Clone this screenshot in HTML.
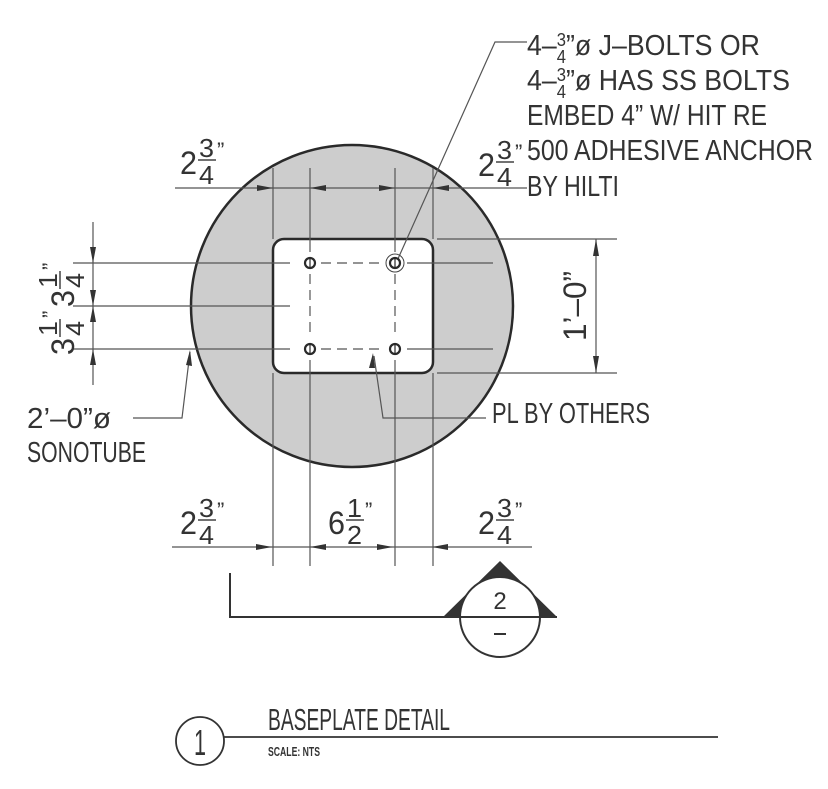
<!DOCTYPE html>
<html><head><meta charset="utf-8"><style>
html,body{margin:0;padding:0;background:#fff;}
svg{display:block;}
text{font-family:"Liberation Sans",sans-serif;fill:#333;}
</style></head><body>
<svg width="828" height="789" viewBox="0 0 828 789" xmlns="http://www.w3.org/2000/svg">
<defs>
<g id="fr">
 <text x="0" y="14" font-size="32" textLength="17" lengthAdjust="spacingAndGlyphs">2</text>
 <text x="19" y="-3" font-size="26" textLength="15" lengthAdjust="spacingAndGlyphs">3</text>
 <line x1="18" y1="0" x2="36" y2="0" stroke="#444" stroke-width="1.5"/>
 <text x="19" y="24" font-size="26" textLength="15" lengthAdjust="spacingAndGlyphs">4</text>
 <text x="37" y="-2" font-size="22">”</text>
</g>
<g id="fr14">
 <text x="0" y="14" font-size="32" textLength="17" lengthAdjust="spacingAndGlyphs">3</text>
 <text x="19" y="-3" font-size="26" textLength="15" lengthAdjust="spacingAndGlyphs">1</text>
 <line x1="18" y1="0" x2="36" y2="0" stroke="#444" stroke-width="1.5"/>
 <text x="19" y="24" font-size="26" textLength="15" lengthAdjust="spacingAndGlyphs">4</text>
 <text x="37" y="-2" font-size="22">”</text>
</g>
</defs>

<circle cx="352" cy="306" r="161" fill="#cdcdcd" stroke="#2a2a2a" stroke-width="2.5"/>
<rect x="273" y="239" width="160" height="134" rx="11" fill="#fff" stroke="#2a2a2a" stroke-width="2.5"/>

<g stroke="#555" stroke-width="1.2" fill="none">
 <line x1="273" y1="168" x2="273" y2="239"/><line x1="433" y1="168" x2="433" y2="239"/>
 <line x1="310" y1="168" x2="310" y2="252"/><line x1="395" y1="168" x2="395" y2="252"/>
 <line x1="273" y1="373" x2="273" y2="566"/><line x1="433" y1="373" x2="433" y2="566"/>
 <line x1="310" y1="360" x2="310" y2="566"/><line x1="395" y1="360" x2="395" y2="566"/>
 <line x1="310" y1="274" x2="310" y2="338" stroke-dasharray="10,6"/>
 <line x1="395" y1="274" x2="395" y2="338" stroke-dasharray="10,6"/>
 <line x1="73" y1="263" x2="290" y2="263"/><line x1="73" y1="306" x2="290" y2="306"/><line x1="73" y1="349" x2="290" y2="349"/>
 <line x1="321" y1="263" x2="384" y2="263" stroke-dasharray="10,6"/>
 <line x1="321" y1="349" x2="384" y2="349" stroke-dasharray="10,6"/>
 <line x1="407" y1="263" x2="493" y2="263"/><line x1="407" y1="349" x2="493" y2="349"/>
 <line x1="437" y1="239" x2="617" y2="239"/><line x1="437" y1="373" x2="617" y2="373"/>
 <line x1="175" y1="188" x2="527" y2="188"/>
 <line x1="172" y1="547" x2="532" y2="547"/>
 <line x1="93" y1="222" x2="93" y2="385"/>
 <line x1="596" y1="239" x2="596" y2="373"/>
 <polyline points="527,42 495,42 397,261"/>
 <polyline points="133,418 182,418 190,352"/>
 <polyline points="486,418 383,418 374,356"/>
</g>

<g stroke="#2a2a2a" stroke-width="2.2" fill="#fff">
 <circle cx="310" cy="263" r="5"/><circle cx="395" cy="263" r="5"/>
 <circle cx="310" cy="349" r="5"/><circle cx="395" cy="349" r="5"/>
</g>
<circle cx="395" cy="263" r="9" fill="none" stroke="#444" stroke-width="1"/>
<g stroke="#2a2a2a" stroke-width="1.2">
 <line x1="310" y1="258" x2="310" y2="268"/><line x1="395" y1="258" x2="395" y2="268"/>
 <line x1="310" y1="344" x2="310" y2="354"/><line x1="395" y1="344" x2="395" y2="354"/>
</g>

<g fill="#333">
 <polygon points="273,188 257,185 257,191"/><polygon points="310,188 326,185 326,191"/>
 <polygon points="395,188 379,185 379,191"/><polygon points="433,188 449,185 449,191"/>
 <polygon points="272,547 256,544 256,550"/><polygon points="310,547 326,544 326,550"/>
 <polygon points="393,547 377,544 377,550"/><polygon points="432,547 448,544 448,550"/>
 <polygon points="93,263 90,247 96,247"/><polygon points="93,306 90,290 96,290"/>
 <polygon points="93,306 90,322 96,322"/><polygon points="93,349 90,365 96,365"/>
 <polygon points="596,239 593,256 599,256"/><polygon points="596,373 593,356 599,356"/>
 <polygon points="190,350 186,365 192,366"/>
 <polygon points="373,353 369,368 375,368"/>
</g>

<use href="#fr" x="180" y="160"/>
<use href="#fr" x="478" y="162"/>
<use href="#fr" x="180" y="520"/>
<g transform="translate(328,520)">
 <text x="0" y="14" font-size="32" textLength="17" lengthAdjust="spacingAndGlyphs">6</text>
 <text x="19" y="-3" font-size="26" textLength="15" lengthAdjust="spacingAndGlyphs">1</text>
 <line x1="18" y1="0" x2="36" y2="0" stroke="#444" stroke-width="1.5"/>
 <text x="19" y="24" font-size="26" textLength="15" lengthAdjust="spacingAndGlyphs">2</text>
 <text x="37" y="-2" font-size="22">”</text>
</g>
<use href="#fr" x="478" y="520"/>
<g transform="translate(60,355) rotate(-90)"><use href="#fr14"/></g>
<g transform="translate(60,307) rotate(-90)"><use href="#fr14"/></g>
<text transform="translate(586,306) rotate(-90)" font-size="32" text-anchor="middle" textLength="70" lengthAdjust="spacingAndGlyphs">1’–0”</text>

<g font-size="29">
 <text x="527" y="55" fill="#222" textLength="233" lengthAdjust="spacingAndGlyphs"><tspan>4–</tspan><tspan font-size="18" dy="-9">3</tspan><tspan font-size="18" dx="-10" dy="17">4</tspan><tspan dy="-8">”ø J–BOLTS OR</tspan></text>
 <text x="527" y="90" fill="#222" textLength="263" lengthAdjust="spacingAndGlyphs"><tspan>4–</tspan><tspan font-size="18" dy="-9">3</tspan><tspan font-size="18" dx="-10" dy="17">4</tspan><tspan dy="-8">”ø HAS SS BOLTS</tspan></text>
 <text x="527" y="125" fill="#222" textLength="240" lengthAdjust="spacingAndGlyphs">EMBED 4” W/ HIT RE</text>
 <text x="527" y="160" fill="#222" textLength="286" lengthAdjust="spacingAndGlyphs">500 ADHESIVE ANCHOR</text>
 <text x="527" y="196" fill="#222" textLength="92" lengthAdjust="spacingAndGlyphs">BY HILTI</text>
 <text x="27" y="428" fill="#222" textLength="84" lengthAdjust="spacingAndGlyphs">2’–0”ø</text>
 <text x="27" y="462" fill="#222" textLength="119" lengthAdjust="spacingAndGlyphs">SONOTUBE</text>
 <text x="492" y="423" fill="#222" textLength="158" lengthAdjust="spacingAndGlyphs">PL BY OTHERS</text>
</g>

<g stroke="#333" stroke-width="2" fill="none">
 <polyline points="230,573 230,617 557,617"/>
</g>
<polygon points="500,561 443,617 557,617" fill="#333"/>
<circle cx="500" cy="617" r="40" fill="#fff" stroke="#333" stroke-width="2"/>
<line x1="460" y1="617" x2="540" y2="617" stroke="#333" stroke-width="2"/>
<text x="500" y="609" font-size="24" text-anchor="middle">2</text>
<line x1="494" y1="634" x2="506" y2="634" stroke="#333" stroke-width="2"/>

<circle cx="200" cy="741" r="24" fill="none" stroke="#333" stroke-width="1.8"/>
<text x="200" y="755" font-size="36" text-anchor="middle" textLength="12" lengthAdjust="spacingAndGlyphs">1</text>
<line x1="224" y1="737" x2="718" y2="737" stroke="#333" stroke-width="1.8"/>
<text x="268" y="730" font-size="31" textLength="182" lengthAdjust="spacingAndGlyphs">BASEPLATE DETAIL</text>
<text x="268" y="756" font-size="13" font-weight="bold" textLength="52" lengthAdjust="spacingAndGlyphs">SCALE: NTS</text>
</svg>
</body></html>
